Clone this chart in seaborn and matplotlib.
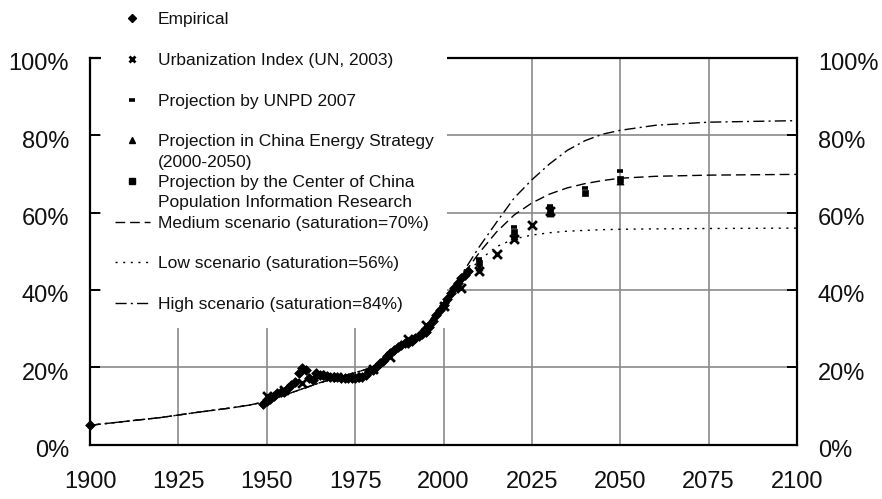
import matplotlib
matplotlib.use("Agg")
import matplotlib.pyplot as plt
from matplotlib import font_manager
from matplotlib.lines import Line2D
from matplotlib.patches import Rectangle
from matplotlib.transforms import ScaledTranslation
import numpy as np
import pandas as pd
import seaborn as sns

# ---- data -----------------------------------------------------------------
# fitted logistic scenarios (urbanization rate, %)
fit_years = [1900, 1910, 1920, 1930, 1940, 1945, 1950, 1955, 1960, 1965, 1970,
             1975, 1980, 1985, 1990, 1995, 2000, 2005, 2010, 2015, 2020, 2025,
             2030, 2035, 2040, 2045, 2050, 2060, 2075, 2100]
low_fit = [5.0, 6.0, 7.0, 8.3, 9.5, 10.2, 11.2, 12.8, 14.4, 16.0, 17.3,
           18.6, 20.0, 22.6, 26.3, 30.8, 36.5, 42.5, 47.6, 51.2, 53.2, 54.2,
           54.8, 55.2, 55.4, 55.6, 55.7, 55.8, 55.9, 56.0]
medium_fit = [5.0, 6.0, 7.0, 8.3, 9.5, 10.2, 11.2, 12.8, 14.4, 16.0, 17.3,
              18.6, 20.0, 22.6, 26.3, 30.8, 36.5, 43.2, 49.5, 55.0, 59.4, 62.5,
              64.8, 66.4, 67.5, 68.3, 68.9, 69.4, 69.7, 69.9]
high_fit = [5.0, 6.0, 7.0, 8.3, 9.5, 10.2, 11.2, 12.8, 14.4, 16.0, 17.3,
            18.6, 20.0, 22.6, 26.3, 30.8, 36.5, 43.8, 51.0, 57.5, 63.8, 68.5,
            72.6, 76.1, 78.6, 80.3, 81.3, 82.6, 83.4, 83.8]

# observed urbanization rate
emp_years = [1900] + list(range(1949, 2008))
emp_values = [5.0,
              10.6, 11.2, 11.8, 12.5, 13.3, 13.7, 13.5, 14.6, 15.4, 16.2,
              18.4, 19.7, 19.3, 17.3, 16.8, 18.4, 18.0, 17.9, 17.7, 17.6,
              17.5, 17.4, 17.3, 17.1, 17.2, 17.2, 17.3, 17.4, 17.6, 17.9,
              19.0, 19.4, 20.2, 21.1, 21.6, 23.0, 23.7, 24.5, 25.3, 25.8,
              26.2, 26.4, 26.9, 27.5, 28.0, 28.5, 29.0, 30.5, 31.9, 33.4,
              34.8, 36.2, 37.7, 39.1, 40.5, 41.8, 43.0, 43.9, 44.9]

# Urbanization Index (UN, 2003)
un_years = [1950, 1955, 1960, 1965, 1970, 1975, 1980, 1985, 1990, 1995, 2000,
            2005, 2010, 2015, 2020, 2025, 2030]
un_values = [12.5, 14.2, 16.0, 18.1, 17.4, 17.4, 19.6, 22.6, 27.4, 31.0, 35.8,
             40.4, 44.9, 49.2, 53.2, 56.9, 60.5]

# Projection by UNPD 2007
unpd_years = [2010, 2020, 2030, 2040, 2050]
unpd_values = [47.9, 56.3, 61.8, 66.4, 70.8]

# Projection in China Energy Strategy (2000-2050)
ces_years = [2010, 2020, 2030, 2050]
ces_values = [46.0, 54.0, 59.8, 68.3]

# Projection by the Center of China Population Information Research
cpir_years = [2010, 2020, 2030, 2040, 2050]
cpir_values = [46.9, 55.0, 60.7, 65.0, 68.6]

y_ticks = [0, 20, 40, 60, 80, 100]
x_ticks = [1900, 1925, 1950, 1975, 2000, 2025, 2050, 2075, 2100]

# ---- style ----------------------------------------------------------------
sns.set_theme(style="white")
plt.rcParams["font.family"] = ["Liberation Sans", "DejaVu Sans"]

# tall, condensed figures for the axis numbers when the narrow face exists
installed = {f.name for f in font_manager.fontManager.ttflist}
if "Liberation Sans Narrow" in installed:
    tick_family, tick_size = "Liberation Sans Narrow", 20.5
else:
    tick_family, tick_size = "Liberation Sans", 17

W, H = 882, 499
fig = plt.figure(figsize=(W / 100, H / 100), dpi=100)
x0, x1, y0, y1 = 90, 797, 444.6, 58
ax = fig.add_axes([x0 / W, (H - y0) / H, (x1 - x0) / W, (y0 - y1) / H])

fits = pd.DataFrame({
    "year": fit_years * 3,
    "pct": low_fit + medium_fit + high_fit,
    "scenario": ["Low"] * len(fit_years) + ["Medium"] * len(fit_years)
                + ["High"] * len(fit_years),
})
dash_map = {"Medium": (7, 3.5), "Low": (1.5, 4), "High": (8, 3, 1.5, 3)}
sns.lineplot(data=fits, x="year", y="pct", style="scenario", dashes=dash_map,
             color="black", lw=1.0, legend=False, estimator=None, sort=True,
             ax=ax, zorder=3)

emp = pd.DataFrame({"year": emp_years, "pct": emp_values})
un = pd.DataFrame({"year": un_years, "pct": un_values})
unpd = pd.DataFrame({"year": unpd_years, "pct": unpd_values})
ces = pd.DataFrame({"year": ces_years, "pct": ces_values})
cpir = pd.DataFrame({"year": cpir_years, "pct": cpir_values})

sns.scatterplot(data=emp, x="year", y="pct", marker="D", s=24, color="black",
                edgecolor="black", linewidth=0.6, ax=ax, zorder=4, clip_on=False)
sns.scatterplot(data=un, x="year", y="pct", marker="x", s=40, color="black",
                linewidth=2.0, ax=ax, zorder=4)
sns.scatterplot(data=cpir, x="year", y="pct", marker="s", s=24, color="black",
                edgecolor="black", linewidth=0.5, ax=ax, zorder=4)
sns.scatterplot(data=ces, x="year", y="pct", marker="^", s=26, color="black",
                edgecolor="black", linewidth=0.5, ax=ax, zorder=4)
sns.scatterplot(data=unpd, x="year", y="pct", marker="_", s=22, color="black",
                linewidth=2.6, ax=ax, zorder=4)

# ---- axes -----------------------------------------------------------------
ax.set_xlim(1900, 2100)
ax.set_ylim(0, 100)
ax.set_xticks(x_ticks)
ax.set_yticks(y_ticks)
ax.set_xticklabels([str(v) for v in x_ticks], family=tick_family)
ax.set_yticklabels([f"{v}%" for v in y_ticks], family=tick_family)
ax.set_xlabel("")
ax.set_ylabel("")
ax.grid(True, color="#8a8a8a", lw=1.2)
ax.set_axisbelow(True)
for sp in ax.spines.values():
    sp.set_color("black")
    sp.set_linewidth(1.6)
    sp.set_visible(True)

ax.tick_params(axis="y", which="both", left=True, right=True, labelleft=True,
               labelright=True, direction="in", length=7, width=1.4,
               color="black", pad=15, labelsize=tick_size, labelcolor="#111111")
ax.tick_params(axis="x", bottom=False, top=False, pad=13, labelsize=tick_size,
               labelcolor="#111111")
for t in ax.yaxis.get_major_ticks():
    t.label2.set_family(tick_family)

# nudge the percentage labels slightly below their gridlines
shift = ScaledTranslation(0, -4 / 100, fig.dpi_scale_trans)
for t in ax.yaxis.get_major_ticks():
    t.label1.set_transform(t.label1.get_transform() + shift)
    t.label2.set_transform(t.label2.get_transform() + shift)

# white panel behind the key: hides grid/top spine but not the data
ax.add_patch(Rectangle((101 / W, (H - 328) / H), (447 - 101) / W, 328 / H,
                       transform=fig.transFigure, facecolor="white",
                       edgecolor="none", zorder=2.6, clip_on=False))

# ---- key ------------------------------------------------------------------
blank = Line2D([], [], ls="none")
handles = [
    Line2D([], [], marker="D", ls="none", color="black", ms=3.6),
    blank,
    Line2D([], [], marker="x", ls="none", color="black", ms=5, mew=2),
    blank,
    Line2D([], [], marker="_", ls="none", color="black", ms=5, mew=2.6),
    blank,
    Line2D([], [], marker="^", ls="none", color="black", ms=4.5),
    blank,
    Line2D([], [], marker="s", ls="none", color="black", ms=4.5),
    blank,
    Line2D([], [], color="black", lw=1.0, ls=(0, dash_map["Medium"])),
    blank,
    Line2D([], [], color="black", lw=1.0, ls=(0, dash_map["Low"])),
    blank,
    Line2D([], [], color="black", lw=1.0, ls=(0, dash_map["High"])),
]
labels = [
    "Empirical", " ",
    "Urbanization Index (UN, 2003)", " ",
    "Projection by UNPD 2007", " ",
    "Projection in China Energy Strategy", "(2000-2050)",
    "Projection by the Center of China", "Population Information Research",
    "Medium scenario (saturation=70%)", " ",
    "Low scenario (saturation=56%)", " ",
    "High scenario (saturation=84%)",
]
leg = ax.legend(handles, labels, loc="upper left",
                bbox_to_anchor=(115 / W, (H - 12) / H),
                bbox_transform=fig.transFigure, frameon=False,
                fontsize=12.5, handlelength=2.0, handletextpad=0.46,
                labelspacing=0.3, borderpad=0, borderaxespad=0)
leg.set_zorder(6)
for txt in leg.get_texts():
    txt.set_color("#111111")

fig.savefig("out.png", dpi=100, facecolor="white")
